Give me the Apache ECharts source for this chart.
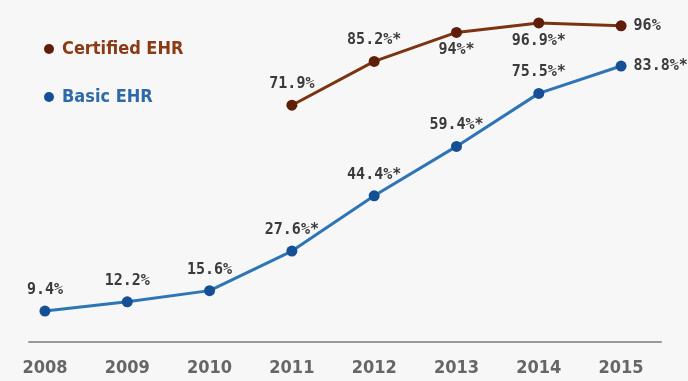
<!DOCTYPE html>
<html>
<head>
<meta charset="utf-8">
<script src="https://cdn.jsdelivr.net/npm/echarts@6/dist/echarts.min.js"></script>
<style>
html,body{margin:0;padding:0;background:#f7f7f7;}
#chart{width:688px;height:381px;}
</style>
</head>
<body>
<div id="chart"></div>
<script>
var years = [2008, 2009, 2010, 2011, 2012, 2013, 2014, 2015];
var basicValues = [9.4, 12.2, 15.6, 27.6, 44.4, 59.4, 75.5, 83.8];
var basicLabels = ['9.4%', '12.2%', '15.6%', '27.6%*', '44.4%*', '59.4%*', '75.5%*', '83.8%*'];
var certYears = [2011, 2012, 2013, 2014, 2015];
var certValues = [71.9, 85.2, 94, 96.9, 96];
var certLabels = ['71.9%', '85.2%*', '94%*', '96.9%*', '96%'];
var yearLabels = ['2008', '2009', '2010', '2011', '2012', '2013', '2014', '2015'];

var labelFont = {fontFamily: 'DejaVu Sans Mono', fontWeight: 'bold', fontSize: 15, color: '#3a3a3a'};

function labelFor(pos) {
  var d = pos === 'top' ? 8 : (pos === 'right' ? 7 : 5);
  return Object.assign({show: true, position: pos, distance: d}, labelFont);
}

var basicData = years.map(function (y, i) {
  var pos = i === years.length - 1 ? 'right' : 'top';
  return {value: [y, basicValues[i]], label: Object.assign(labelFor(pos), {formatter: basicLabels[i]})};
});
var certData = certYears.map(function (y, i) {
  var pos = i === certYears.length - 1 ? 'right' : (i >= 2 ? 'bottom' : 'top');
  return {value: [y, certValues[i]], label: Object.assign(labelFor(pos), {formatter: certLabels[i]})};
});

var chart = echarts.init(document.getElementById('chart'));
chart.setOption({
  backgroundColor: '#f7f7f7',
  animation: false,
  grid: {left: 29, right: 27, top: 12.7, bottom: 39},
  legend: {
    orient: 'vertical',
    left: 39,
    top: 35,
    itemGap: 30,
    icon: 'circle',
    itemWidth: 10,
    itemHeight: 10,
    textStyle: {fontFamily: 'DejaVu Sans Condensed', fontWeight: 'bold', fontSize: 18, padding: [0, 0, 0, 3]},
    data: [
      {name: 'Certified EHR', textStyle: {color: '#8a3a14'}},
      {name: 'Basic EHR', textStyle: {color: '#2e6aa8'}}
    ]
  },
  xAxis: {
    type: 'value',
    min: 2007.806,
    max: 2015.485,
    splitLine: {show: false},
    axisLine: {show: true, onZero: false, lineStyle: {color: '#9a9a9a', width: 2}},
    axisTick: {show: false},
    axisLabel: {
      customValues: years,
      formatter: function (v) { return yearLabels[years.indexOf(Math.round(v))] || ''; },
      fontFamily: 'DejaVu Sans Condensed',
      fontWeight: 'bold',
      fontSize: 18,
      color: '#666',
      margin: 17
    }
  },
  yAxis: {
    type: 'value',
    min: 0,
    max: 100,
    show: false,
    splitLine: {show: false}
  },
  series: [
    {
      name: 'Certified EHR',
      type: 'line',
      data: certData,
      symbol: 'circle',
      symbolSize: 11,
      itemStyle: {color: '#5e1e0a'},
      lineStyle: {color: '#7b3412', width: 3}
    },
    {
      name: 'Basic EHR',
      type: 'line',
      data: basicData,
      symbol: 'circle',
      symbolSize: 11,
      itemStyle: {color: '#154f96'},
      lineStyle: {color: '#2e75b6', width: 3}
    }
  ]
});
</script>
</body>
</html>
